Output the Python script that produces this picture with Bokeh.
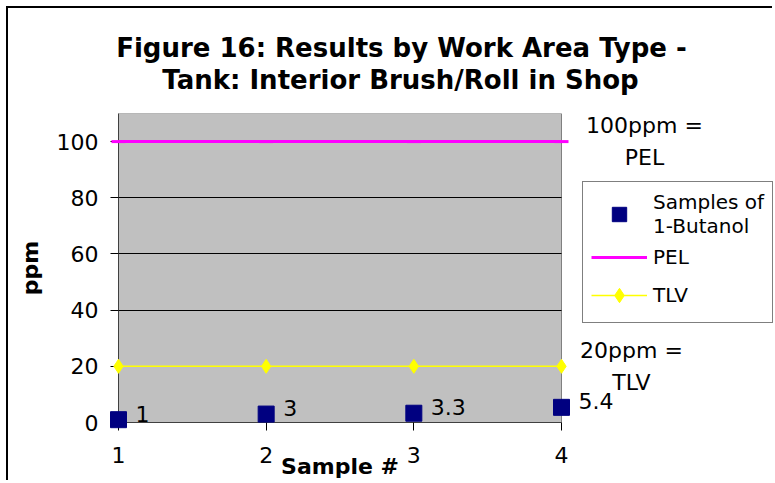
from bokeh.plotting import figure
from bokeh.models import (ColumnDataSource, Legend, LegendItem, FixedTicker, Range1d)
from bokeh.core.properties import value
from bokeh.embed import file_html
from bokeh.resources import INLINE

# ---- data ----
sample_no = [1, 2, 3, 4]
butanol_ppm = [1, 3, 3.3, 5.4]
butanol_labels = ["1", "3", "3.3", "5.4"]
pel_ppm = [100, 100, 100, 100]
tlv_ppm = [20, 20, 20, 20]
x_ticks = [1, 2, 3, 4]
y_ticks = [0, 20, 40, 60, 80, 100]
y_max = 110
title_lines = ["Figure 16: Results by Work Area Type -", "Tank: Interior Brush/Roll in Shop"]
x_title = "Sample #"
y_title = "ppm"
pel_note = "100ppm =\nPEL"
tlv_note = "20ppm =\nTLV"
pel_level = 100
tlv_level = 20

FONT = "DejaVu Sans"
W, H = 766, 474
LEFT, TOP, BOTTOM = 110, 105, 60
PLOT_W = 443                      # pixel width of the grey plot area
FRAME_W = W - LEFT                # frame runs to the right edge (room for legend/notes)
x0, x1 = sample_no[0], sample_no[-1]
x_end = x0 + (x1 - x0) * FRAME_W / PLOT_W

p = figure(width=W, height=H, output_backend="svg", toolbar_location=None,
           x_range=Range1d(x0, x_end), y_range=Range1d(0, y_max),
           min_border_left=LEFT, min_border_right=0,
           min_border_top=TOP, min_border_bottom=BOTTOM,
           background_fill_color="white", border_fill_color="white",
           outline_line_color=None,
           styles={"margin-left": "6px", "margin-top": "6px",
                   "border-left": "2px solid black", "border-top": "2px solid black",
                   "border-right": "0px none", "border-bottom": "0px none"})

# grey plot area
p.quad(left=x0, right=x1, bottom=0, top=y_max, fill_color="#C0C0C0",
       line_color="#808080", line_width=1, level="image")

src = ColumnDataSource(dict(x=sample_no, y=butanol_ppm, lab=butanol_labels))

pel_line = p.line(sample_no, pel_ppm, line_color="#FF00FF", line_width=3)
pel_marks = p.scatter(sample_no, pel_ppm, marker="dash", size=14, line_color="#FF00FF",
                      line_width=3, level="overlay")
tlv_line = p.line(sample_no, tlv_ppm, line_color="#FFFF00", line_width=1.5)
tlv_marks = p.scatter(sample_no, tlv_ppm, marker="diamond", size=14, fill_color="#FFFF00",
                      line_color="#FFFF00", level="overlay")
sq = p.scatter("x", "y", source=src, marker="square", size=16, fill_color="#000080",
               line_color="#000080", level="overlay")

# data labels
p.text(x="x", y="y", text="lab", source=src, x_offset=17, y_offset=-6,
       text_baseline="middle", text_align="left", level="overlay",
       text_font=value(FONT), text_font_size="22px", text_color="black")

# axes
for ax in (p.xaxis[0], p.yaxis[0]):
    ax.major_tick_in = 0
    ax.major_tick_out = 8
    ax.minor_tick_line_color = None
    ax.major_tick_line_color = "black"
    ax.axis_line_color = "#404040"
    ax.major_label_text_font = FONT
    ax.major_label_text_font_size = "22px"
    ax.major_label_text_color = "black"
    ax.axis_label_text_font = FONT
    ax.axis_label_text_font_style = "bold"
    ax.axis_label_text_font_size = "22px"
    ax.axis_label_text_color = "black"

p.xaxis.ticker = FixedTicker(ticks=x_ticks)
p.xaxis.bounds = (x0, x1)
p.yaxis.ticker = FixedTicker(ticks=y_ticks)
p.xaxis.major_label_standoff = 16
p.yaxis.axis_label = y_title
p.yaxis.major_label_standoff = 12
p.yaxis.axis_label_standoff = 11

# x axis title, centred under the grey plot area
p.text(x=[x0], y=[0], text=[x_title], x_offset=PLOT_W / 2, y_offset=44,
       text_align="center", text_baseline="alphabetic", level="overlay",
       text_font=value(FONT), text_font_style="bold", text_font_size="22px",
       text_color="black")

p.xgrid.visible = False
if "cross_bounds" in p.ygrid[0].properties():
    p.ygrid.grid_line_color = "black"
    p.ygrid.grid_line_width = 1
    p.ygrid.cross_bounds = (x0, x1)
else:
    p.ygrid.visible = False
    p.segment(x0=x0, x1=x1, y0=y_ticks[1:], y1=y_ticks[1:], line_color="black",
              line_width=1, level="underlay")

# title lines, anchored at the top-left corner of the plot area
p.text(x=[x0], y=[y_max], text=[title_lines[0]], x_offset=283, y_offset=-66,
       text_align="center", text_baseline="alphabetic", level="overlay",
       text_font=value(FONT), text_font_style="bold", text_font_size="26px",
       text_color="black")
p.text(x=[x0], y=[y_max], text=[title_lines[1]], x_offset=282, y_offset=-34,
       text_align="center", text_baseline="alphabetic", level="overlay",
       text_font=value(FONT), text_font_style="bold", text_font_size="26px",
       text_color="black")

# reference level notes
p.text(x=[x1], y=[pel_level], text=[pel_note], x_offset=83, y_offset=0,
       text_align="center", text_baseline="middle", text_line_height=1.3,
       level="overlay", text_font=value(FONT), text_font_size="22px", text_color="black")
p.text(x=[x1], y=[tlv_level], text=[tlv_note], x_offset=70, y_offset=0,
       text_align="center", text_baseline="middle", text_line_height=1.3,
       level="overlay", text_font=value(FONT), text_font_size="22px", text_color="black")

legend = Legend(items=[LegendItem(label="Samples of\n1-Butanol", renderers=[sq]),
                       LegendItem(label="PEL", renderers=[pel_line, pel_marks]),
                       LegendItem(label="TLV", renderers=[tlv_line, tlv_marks])],
                location=(PLOT_W + 21, 99), orientation="vertical",
                border_line_color="black", border_line_width=1,
                background_fill_color="white", background_fill_alpha=1,
                label_text_font=FONT, label_text_font_size="20px",
                label_text_color="black", label_text_line_height=1.1,
                glyph_width=56, glyph_height=36, label_height=38,
                label_standoff=6, padding=8, spacing=0, margin=0)
p.add_layout(legend, "center")

open("out.html", "w").write(file_html(p, INLINE))
